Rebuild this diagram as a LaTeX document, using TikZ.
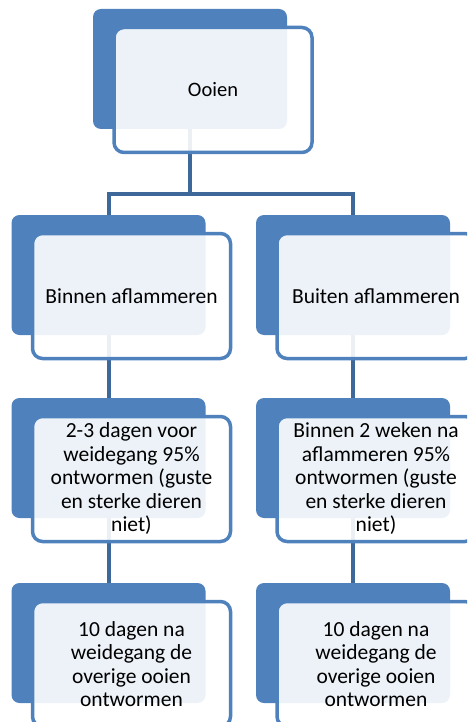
\documentclass[tikz,border=0pt]{standalone}
\usepackage{fontspec}
\setmainfont{Carlito}
\usetikzlibrary{positioning}
\definecolor{achterblauw}{RGB}{79,129,189}
\definecolor{lijnblauw}{RGB}{62,104,154}
\tikzset{
achterkant/.style={fill=achterblauw,rounded corners=8pt,minimum width=194pt,minimum height=120pt,inner sep=0pt},
voorkant/.style={draw=achterblauw,line width=3.5pt,fill=white,fill opacity=0.9,text opacity=1,rounded corners=10pt,minimum width=198pt,minimum height=125pt,inner sep=0pt,align=center,font=\fontsize{21.5}{23.5}\selectfont},
verbinding/.style={draw=lijnblauw,line width=4pt}
}
\begin{document}
\begin{tikzpicture}[x=1pt,y=-1pt]
\path[use as bounding box,clip](0,0)rectangle(467,722);
\node[achterkant](ooienA)at(190,69){};
\node[achterkant](binnenA)at(108.5,275){};
\node[achterkant](buitenA)at(353,275){};
\node[achterkant](voorA)at(108.5,458){};
\node[achterkant](naA)at(353,458){};
\node[achterkant](tienA)at(108.5,643){};
\node[achterkant](tienbA)at(353,643){};
\coordinate(splits)at(190,193.5);
\draw[verbinding](ooienA.south)--(splits);
\draw[verbinding](binnenA.north)|-(splits)-|(buitenA.north);
\draw[verbinding](binnenA.south)--(voorA.north);
\draw[verbinding](buitenA.south)--(naA.north);
\draw[verbinding](voorA.south)--(tienA.north);
\draw[verbinding](naA.south)--(tienbA.north);
\node[voorkant,font=\fontsize{20.5}{23.5}\selectfont](ooien)at(213,90){Ooien};
\node[voorkant](binnen)at(131.5,296){Binnen aflammeren};
\node[voorkant](buiten)at(376,296){Buiten aflammeren};
\node[voorkant](voor)at(131.5,479){2-3 dagen voor\\weidegang 95\%\\ontwormen (guste\\en sterke dieren\\niet)};
\node[voorkant](na)at(376,479){Binnen 2 weken na\\aflammeren 95\%\\ontwormen (guste\\en sterke dieren\\niet)};
\node[voorkant](tien)at(131.5,664){10 dagen na\\weidegang de\\overige ooien\\ontwormen};
\node[voorkant](tienb)at(376,664){10 dagen na\\weidegang de\\overige ooien\\ontwormen};
\end{tikzpicture}
\end{document}
